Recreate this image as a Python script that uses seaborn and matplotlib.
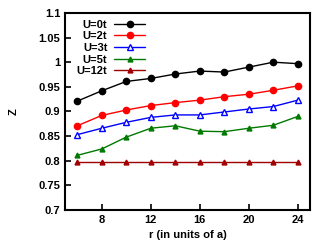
import matplotlib
matplotlib.use("Agg")
import matplotlib.pyplot as plt
import seaborn as sns
import pandas as pd

sns.set_style("ticks")
plt.rcParams.update({
    "font.family": ["Liberation Sans", "DejaVu Sans"],
    "font.weight": "bold",
    "font.size": 8,
    "axes.labelweight": "bold",
    "text.color": "black",
    "axes.labelcolor": "black",
    "xtick.color": "black",
    "ytick.color": "black",
    "axes.edgecolor": "black",
})

r = [6, 8, 10, 12, 14, 16, 18, 20, 22, 24]
z_u0 = [0.921, 0.942, 0.961, 0.967, 0.976, 0.982, 0.980, 0.990, 1.000, 0.997]
z_u2 = [0.871, 0.892, 0.903, 0.912, 0.918, 0.923, 0.930, 0.935, 0.943, 0.952]
z_u3 = [0.853, 0.866, 0.878, 0.888, 0.893, 0.893, 0.899, 0.905, 0.910, 0.923]
z_u5 = [0.811, 0.824, 0.848, 0.866, 0.871, 0.860, 0.859, 0.866, 0.872, 0.890]
z_u12 = [0.798, 0.798, 0.798, 0.798, 0.798, 0.798, 0.798, 0.798, 0.798, 0.798]

labels = ["U=0t", "U=2t", "U=3t", "U=5t", "U=12t"]
series = [z_u0, z_u2, z_u3, z_u5, z_u12]
colors = ["#000000", "#ff0000", "#0000ff", "#007a00", "#a00000"]
markers = ["o", "o", "^", "^", "^"]
msizes = [4.5, 4.5, 4.5, 3.5, 3.5]
fills = [True, True, False, True, True]

df = pd.concat([pd.DataFrame({"r": r, "Z": s, "U": lab}) for lab, s in zip(labels, series)])

fig, ax = plt.subplots(figsize=(3.32, 2.48), dpi=100)
for lab, col, mk, ms, fill in zip(labels, colors, markers, msizes, fills):
    sub = df[df["U"] == lab]
    sns.lineplot(data=sub, x="r", y="Z", ax=ax, color=col, marker=mk,
                 markersize=ms, linewidth=1.0, label=lab,
                 markerfacecolor=col if fill else "white",
                 markeredgecolor=col, markeredgewidth=1.0)

ax.set_xlim(5, 25)
ax.set_ylim(0.7, 1.1)
ax.set_xticks([8, 12, 16, 20, 24])
ax.set_yticks([0.7, 0.75, 0.8, 0.85, 0.9, 0.95, 1.0, 1.05, 1.1])
ax.set_yticklabels(["0.7", "0.75", "0.8", "0.85", "0.9", "0.95", "1", "1.05", "1.1"])
ax.tick_params(direction="in", length=4, width=1.2, labelsize=8)
for sp in ax.spines.values():
    sp.set_linewidth(1.5)
    sp.set_visible(True)
ax.set_xlabel("r (in units of a)", fontsize=8)
ax.set_ylabel("Z", fontsize=8, labelpad=14)

leg = ax.legend(loc="upper left", bbox_to_anchor=(0.02, 1.0),
                markerfirst=False, frameon=False,
                fontsize=8, handlelength=2.8, labelspacing=0.15,
                borderaxespad=0.2, handletextpad=0.6)
for t in leg.get_texts():
    t.set_ha("right")

fig.subplots_adjust(left=0.196, right=0.934, top=0.948, bottom=0.153)
fig.savefig("out.png", dpi=100)
